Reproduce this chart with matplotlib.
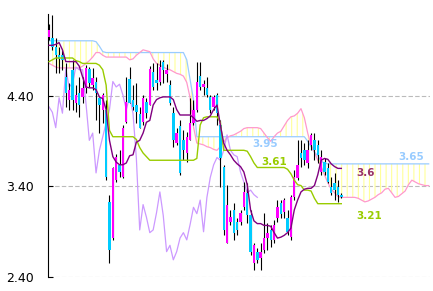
import numpy as np
import matplotlib
matplotlib.use('Agg')
import matplotlib.pyplot as plt

# daily candles (price)
opens = [5.05, 5.04, 4.94, 4.85, 4.85, 4.61, 4.36, 4.69, 4.32, 4.43,
         4.39, 4.49, 4.70, 4.52, 4.56, 4.38, 4.25, 4.25, 3.23, 2.83,
         3.47, 3.64, 3.50, 4.11, 4.59, 4.36, 4.30, 4.20, 4.11, 4.33,
         4.30, 4.67, 4.58, 4.56, 4.78, 4.64, 4.52, 4.21, 3.88, 4.07,
         3.91, 3.77, 3.91, 4.10, 4.25, 4.62, 4.50, 4.49, 4.39, 4.28,
         4.41, 4.08, 3.62, 2.78, 3.01, 3.14, 3.01, 3.01, 3.17, 3.33,
         3.08, 2.56, 2.68, 2.61, 2.70, 2.83, 2.92, 2.81, 3.05, 3.22,
         3.12, 3.05, 2.84, 3.28, 3.49, 3.77, 3.80, 3.66, 3.86, 3.91,
         3.86, 3.56, 3.67, 3.60, 3.39, 3.44, 3.39, 3.31]
highs = [5.19, 5.30, 5.04, 4.94, 4.91, 4.77, 4.54, 4.80, 4.52, 4.61,
         4.61, 4.74, 4.72, 4.71, 4.61, 4.39, 4.43, 4.36, 3.31, 3.62,
         3.76, 3.80, 4.08, 4.61, 4.72, 4.52, 4.54, 4.28, 4.41, 4.38,
         4.73, 4.77, 4.77, 4.80, 4.80, 4.75, 4.58, 4.28, 4.05, 4.14,
         4.02, 4.00, 4.38, 4.36, 4.78, 4.78, 4.58, 4.61, 4.41, 4.41,
         4.43, 4.14, 3.64, 3.42, 3.14, 3.22, 3.05, 3.14, 3.45, 3.44,
         3.14, 2.78, 2.72, 2.78, 3.11, 3.00, 2.98, 3.03, 3.25, 3.25,
         3.27, 3.14, 3.31, 3.58, 3.91, 3.91, 3.88, 3.91, 3.99, 3.99,
         3.91, 3.80, 3.71, 3.66, 3.50, 3.55, 3.47, 3.33]
lows = [5.02, 4.91, 4.65, 4.65, 4.69, 4.28, 4.25, 4.25, 4.22, 4.17,
        4.32, 4.43, 4.50, 4.47, 4.14, 3.99, 4.10, 3.47, 2.56, 2.81,
        3.45, 3.51, 3.49, 4.10, 4.32, 4.25, 4.10, 4.05, 4.08, 4.16,
        4.30, 4.47, 4.47, 4.52, 4.54, 4.56, 4.30, 3.84, 3.86, 3.53,
        3.69, 3.67, 3.91, 4.08, 4.22, 4.47, 4.41, 4.39, 4.21, 4.25,
        4.08, 3.39, 2.86, 2.78, 2.98, 2.81, 2.86, 2.98, 3.14, 3.00,
        2.64, 2.48, 2.56, 2.48, 2.66, 2.70, 2.73, 2.78, 3.01, 3.05,
        3.05, 2.86, 2.81, 3.25, 3.47, 3.62, 3.64, 3.60, 3.80, 3.69,
        3.66, 3.53, 3.53, 3.44, 3.31, 3.25, 3.23, 3.27]
closes = [5.13, 4.94, 4.85, 4.81, 4.80, 4.43, 4.47, 4.36, 4.41, 4.30,
          4.49, 4.71, 4.54, 4.60, 4.43, 4.30, 4.41, 3.51, 2.70, 3.60,
          3.73, 3.56, 4.05, 4.33, 4.32, 4.28, 4.22, 4.05, 4.38, 4.21,
          4.70, 4.50, 4.54, 4.72, 4.69, 4.69, 4.32, 3.91, 3.99, 3.55,
          3.80, 3.95, 4.10, 4.25, 4.56, 4.50, 4.53, 4.41, 4.25, 4.39,
          4.21, 3.71, 2.92, 3.20, 3.06, 2.89, 2.92, 3.11, 3.34, 3.08,
          2.68, 2.75, 2.59, 2.68, 2.83, 2.89, 2.81, 2.98, 3.17, 3.10,
          3.25, 2.90, 3.28, 3.50, 3.64, 3.72, 3.69, 3.80, 3.97, 3.80,
          3.75, 3.73, 3.56, 3.45, 3.33, 3.36, 3.31, 3.28]

# conversion line / base line
tenkan = [4.96, 4.96, 4.97, 4.99, 4.91, 4.78, 4.78, 4.78, 4.78, 4.73,
          4.61, 4.50, 4.49, 4.49, 4.47, 4.39, 4.37, 4.25, 3.91, 3.73,
          3.67, 3.64, 3.64, 3.66, 3.74, 3.75, 3.89, 3.91, 3.99, 4.11,
          4.13, 4.30, 4.36, 4.38, 4.39, 4.39, 4.39, 4.36, 4.25, 4.19,
          4.19, 4.19, 4.19, 4.16, 4.12, 4.13, 4.13, 4.15, 4.18, 4.25,
          4.30, 4.08, 3.88, 3.80, 3.75, 3.69, 3.65, 3.62, 3.56, 3.42,
          3.14, 3.02, 2.99, 2.99, 2.97, 2.97, 2.96, 2.89, 2.83, 2.84,
          2.86, 2.89, 2.94, 3.14, 3.25, 3.34, 3.37, 3.38, 3.38, 3.41,
          3.53, 3.69, 3.71, 3.70, 3.65, 3.62, 3.60, 3.60]
kijun = [4.78, 4.80, 4.82, 4.82, 4.82, 4.82, 4.82, 4.82, 4.79, 4.78,
         4.76, 4.76, 4.76, 4.76, 4.76, 4.74, 4.69, 4.52, 4.02, 3.95,
         3.95, 3.95, 3.95, 3.95, 3.95, 3.95, 3.92, 3.83, 3.77, 3.73,
         3.69, 3.69, 3.69, 3.69, 3.69, 3.69, 3.69, 3.69, 3.69, 3.69,
         3.69, 3.69, 3.69, 3.69, 3.71, 4.08, 4.16, 4.17, 4.17, 4.17,
         4.17, 4.11, 3.80, 3.80, 3.80, 3.80, 3.80, 3.80, 3.80, 3.79,
         3.73, 3.66, 3.61, 3.61, 3.61, 3.61, 3.61, 3.61, 3.61, 3.61,
         3.61, 3.59, 3.54, 3.47, 3.42, 3.41, 3.36, 3.36, 3.35, 3.27,
         3.21, 3.21, 3.21, 3.21, 3.21, 3.21, 3.21, 3.21]

# leading spans (run 26 days past the last candle)
span_blue = [5.01, 5.01, 5.01, 5.01, 5.01, 5.01, 5.01, 5.01, 5.01, 5.01,
             5.01, 5.01, 5.01, 5.01, 5.00, 4.95, 4.89, 4.88, 4.88, 4.88,
             4.88, 4.88, 4.88, 4.88, 4.88, 4.88, 4.88, 4.88, 4.88, 4.88,
             4.88, 4.88, 4.88, 4.88, 4.88, 4.88, 4.88, 4.88, 4.88, 4.88,
             4.88, 4.80, 4.58, 4.36, 3.95, 3.95, 3.95, 3.95, 3.95, 3.95,
             3.95, 3.95, 3.95, 3.95, 3.95, 3.95, 3.95, 3.95, 3.95, 3.95,
             3.95, 3.95, 3.95, 3.95, 3.95, 3.95, 3.95, 3.95, 3.95, 3.95,
             3.95, 3.95, 3.95, 3.95, 3.95, 3.95, 3.95, 3.90, 3.84, 3.78,
             3.74, 3.68, 3.66, 3.65, 3.65, 3.65, 3.65, 3.65, 3.65, 3.65,
             3.65, 3.65, 3.65, 3.65, 3.65, 3.65, 3.65, 3.65, 3.65, 3.65,
             3.65, 3.65, 3.65, 3.65, 3.65, 3.65, 3.65, 3.65, 3.65, 3.65,
             3.65, 3.65, 3.65, 3.65]
span_pink = [4.76, 4.74, 4.72, 4.71, 4.71, 4.71, 4.71, 4.71, 4.71, 4.71,
             4.73, 4.76, 4.79, 4.83, 4.88, 4.88, 4.85, 4.83, 4.83, 4.83,
             4.83, 4.83, 4.83, 4.83, 4.80, 4.81, 4.85, 4.88, 4.91, 4.90,
             4.89, 4.81, 4.76, 4.74, 4.72, 4.70, 4.69, 4.67, 4.65, 4.64,
             4.62, 4.55, 4.38, 4.06, 3.88, 3.87, 3.86, 3.84, 3.83, 3.81,
             3.80, 3.84, 3.89, 3.94, 3.96, 3.97, 3.99, 4.01, 4.04, 4.05,
             4.05, 4.05, 4.05, 4.04, 3.99, 3.94, 3.90, 3.95, 3.99, 4.01,
             4.07, 4.13, 4.17, 4.18, 4.21, 4.26, 4.16, 3.99, 3.86, 3.78,
             3.69, 3.62, 3.53, 3.44, 3.37, 3.33, 3.29, 3.28, 3.28, 3.28,
             3.28, 3.28, 3.27, 3.25, 3.23, 3.24, 3.26, 3.28, 3.31, 3.33,
             3.37, 3.38, 3.33, 3.28, 3.29, 3.32, 3.35, 3.42, 3.47, 3.45,
             3.43, 3.42, 3.41, 3.41]
lag = 25

yticks = [2.40, 3.40, 4.40]
level_texts = ['3.95', '3.61', '3.65', '3.6', '3.21']

plt.rcParams['hatch.linewidth'] = 0.8
plt.rcParams['hatch.color'] = '#FFFF99'

fig = plt.figure(figsize=(4.33, 2.91), dpi=100)
ax = fig.add_axes([48 / 433, 14 / 291, 382 / 433, 263 / 291])

o = np.array(opens)
h = np.array(highs)
l = np.array(lows)
c = np.array(closes)
idx = np.arange(len(c))
cidx = np.arange(len(span_blue))

# cloud: hatched band between the two spans
ax.fill_between(cidx, span_blue, span_pink, facecolor='none',
                edgecolor='#FFFF99', hatch='|||', linewidth=0, zorder=1)
ax.plot(cidx, span_blue, color='#99CCFF', lw=0.9, zorder=2)
ax.plot(cidx, span_pink, color='#FF99CC', lw=0.9, zorder=2)

# lagging line = close moved back
ax.plot(idx[:-lag], c[lag:], color='#CC99FF', lw=0.9, zorder=2.5)

# candles
up = c >= o
ax.vlines(idx, l, h, color='black', lw=0.8, zorder=3)
ax.bar(idx, np.maximum(np.abs(c - o), 0.012), bottom=np.minimum(o, c),
       width=0.72, color=np.where(up, '#FF00FF', '#00CCFF'), lw=0, zorder=3.5)

ax.plot(idx, kijun, color='#99CC00', lw=1.0, zorder=4)
ax.plot(idx, tenkan, color='#800080', lw=1.0, zorder=4.5)

# level labels
lab = dict(fontsize=7.5, fontweight='bold', ha='center', va='center', zorder=6)
ax.text(64.3, 3.875, level_texts[0], color='#99CCFF', **lab)
ax.text(67.0, 3.67, level_texts[1], color='#99CC00', **lab)
ax.text(107.7, 3.73, level_texts[2], color='#99CCFF', **lab)
ax.text(94.3, 3.55, level_texts[3], color='#993366', **lab)
ax.text(95.2, 3.07, level_texts[4], color='#99CC00', **lab)

ax.set_xlim(-0.3, 113.4)
ax.set_ylim(2.40, 5.306)
ax.set_xticks([])
ax.set_yticks(yticks)
ax.set_yticklabels([f'{v:.2f}' for v in yticks],
                   family=['Liberation Sans Narrow', 'DejaVu Sans'], fontsize=9)
ax.tick_params(axis='y', direction='in', length=3.5, width=0.8, pad=10, colors='black')
ax.yaxis.grid(True, color='#BBBBBB', linestyle=(0, (4, 2)), linewidth=0.8)
ax.set_axisbelow(True)
for s in ['top', 'right', 'bottom']:
    ax.spines[s].set_visible(False)
ax.spines['left'].set_linewidth(0.8)

fig.savefig('out.png', dpi=100)
